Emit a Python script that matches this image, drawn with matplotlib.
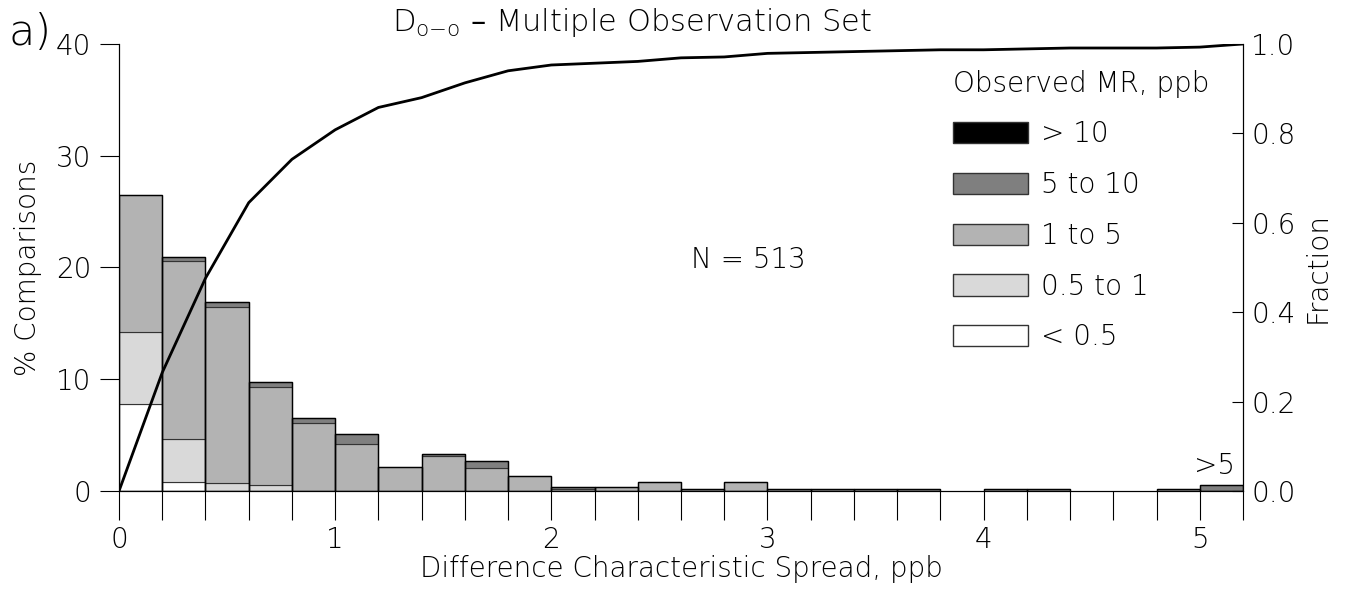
import numpy as np
import matplotlib
matplotlib.use('Agg')
import matplotlib.pyplot as plt
from matplotlib.patches import Patch

# bin left edges (ppb), width 0.2, last bin is ">5"
bin_lo = [0.0, 0.2, 0.4, 0.6, 0.8, 1.0, 1.2, 1.4, 1.6, 1.8, 2.0, 2.2, 2.4,
          2.6, 2.8, 3.0, 3.2, 3.4, 3.6, 3.8, 4.0, 4.2, 4.4, 4.6, 4.8, 5.0]
# % comparisons per observed MR class
lt05 = [7.8, 0.78, 0, 0, 0, 0, 0, 0, 0, 0, 0, 0, 0,
        0, 0, 0, 0, 0, 0, 0, 0, 0, 0, 0, 0, 0]
p05_1 = [6.43, 3.9, 0.69, 0.54, 0, 0, 0, 0, 0, 0, 0, 0, 0,
         0, 0, 0, 0, 0, 0, 0, 0, 0, 0, 0, 0, 0]
p1_5 = [12.3, 15.9, 15.8, 8.74, 6.11, 4.2, 2.12, 3.1, 2.03, 1.34, 0.195, 0.39, 0.78,
        0.195, 0.78, 0.195, 0.195, 0.195, 0.195, 0, 0.195, 0.195, 0, 0, 0.195, 0]
p5_10 = [0, 0.39, 0.45, 0.45, 0.45, 0.87, 0, 0.2, 0.68, 0, 0.195, 0, 0,
         0, 0, 0, 0, 0, 0, 0, 0, 0, 0, 0, 0, 0.58]
gt10 = [0] * 26
# cumulative fraction at bin edges
edges = bin_lo + [5.2]
frac = [0, 0.265, 0.476, 0.645, 0.742, 0.808, 0.858, 0.880, 0.913, 0.940, 0.953,
        0.957, 0.961, 0.969, 0.971, 0.979, 0.981, 0.983, 0.985, 0.987, 0.987,
        0.989, 0.991, 0.991, 0.991, 0.993, 1.0]

classes = ['< 0.5', '0.5 to 1', '1 to 5', '5 to 10', '> 10']
series = [lt05, p05_1, p1_5, p5_10, gt10]
cols = ['white', '#d9d9d9', '#b3b3b3', '#7f7f7f', 'black']

plt.rcParams['font.family'] = ['DejaVu Sans']
plt.rcParams['font.weight'] = 200
plt.rcParams['axes.labelweight'] = 200
plt.rcParams['font.size'] = 20

fig = plt.figure(figsize=(13.48, 5.96), dpi=100)
ax = fig.add_axes([0.0883, 0.1762, 0.8338, 0.75])

bottom = np.zeros(len(bin_lo))
for vals, c in zip(series, cols):
    v = np.array(vals, dtype=float)
    m = v > 0
    ax.bar(np.array(bin_lo)[m], v[m], width=0.2, bottom=bottom[m], align='edge',
           color=c, edgecolor='#333333', linewidth=0.8)
    bottom += v
# outline of whole bars
m = bottom > 0
ax.bar(np.array(bin_lo)[m], bottom[m], width=0.2, align='edge', fill=False,
       edgecolor='black', linewidth=1.0)

ax.set_xlim(0, 5.2)
ax.set_ylim(0, 40)
ax.set_xticks(range(6))
ax.set_xticks(edges, minor=True)
ax.tick_params(axis='x', which='both', direction='out', length=21, width=0.8, pad=4)
ax.tick_params(axis='y', direction='out', length=14, width=0.8, pad=6)
ax.set_yticks([0, 10, 20, 30, 40])
ax.spines['top'].set_visible(False)
ax.set_xlabel('Difference Characteristic Spread, ppb', labelpad=1)
ax.set_ylabel('% Comparisons', labelpad=10)

ax2 = ax.twinx()
ax2.plot(edges, frac, color='black', lw=2)
ax2.set_ylim(0, 1)
ax2.set_yticks([0, 0.2, 0.4, 0.6, 0.8, 1.0])
ax2.set_yticklabels(['0.0', '0.2', '0.4', '0.6', '0.8', '1.0'])
ax2.tick_params(axis='y', direction='in', length=8, width=0.8, pad=6)
ax2.spines['top'].set_visible(False)
ax2.set_ylabel('Fraction', labelpad=6)

handles = [Patch(facecolor=c, edgecolor='#333333', label=l)
           for c, l in zip(cols[::-1], classes[::-1])]
ax2.legend(handles=handles, title='Observed MR, ppb', loc='upper right',
           bbox_to_anchor=(0.985, 0.98), frameon=False, handlelength=2.7,
           handleheight=0.8, labelspacing=0.82, handletextpad=0.45,
           alignment='left', title_fontsize=20, borderaxespad=0.2)

ax.text(2.91, 20.7, 'N = 513', ha='center', va='center')
ax.text(5.07, 1.0, '>5', ha='center', va='bottom')
fig.text(0.469, 0.962, r'D$_{\mathregular{o{-}o}}$ – Multiple Observation Set',
         ha='center', va='center', fontsize=22)
fig.text(0.006, 0.945, 'a)', fontsize=31, va='center')

fig.savefig('out.png', dpi=100)
